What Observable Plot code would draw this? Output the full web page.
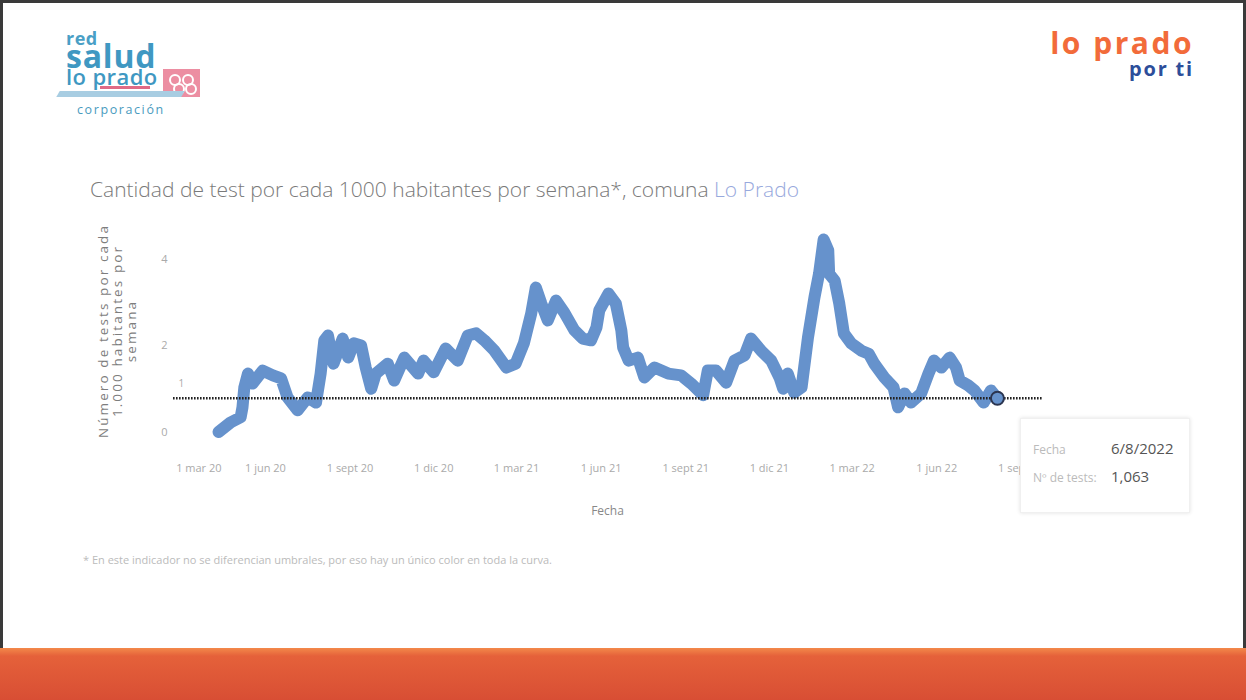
<!DOCTYPE html>
<html><head><meta charset="utf-8">
<script src="https://cdn.jsdelivr.net/npm/d3@7"></script>
<script src="https://cdn.jsdelivr.net/npm/@observablehq/plot@0.6"></script>
<style>
body{margin:0;background:#fff;}
#page{position:relative;width:1246px;height:700px;background:#fff;overflow:hidden;font-family:"Open Sans",sans-serif;}
#frame{position:absolute;left:0;top:0;width:1246px;height:648px;box-sizing:border-box;border:3px solid #3a3a3a;border-bottom:none;}
#band{position:absolute;left:0;top:648px;width:1246px;height:52px;background:linear-gradient(#f3894a 0px,#e5613a 8px,#d84e34 100%);}
.abs{position:absolute;white-space:nowrap;}
#title{left:90px;top:175px;font-size:21px;font-weight:300;color:#7a7a7a;}
#title span{color:#98a9dd;}
#ytitle{left:-3px;top:310px;width:240px;text-align:center;font-size:13.5px;line-height:14px;color:#7d7d7d;letter-spacing:2.1px;transform:rotate(-90deg);}
#fecha{left:580px;top:502px;width:55px;text-align:center;font-size:12px;color:#888;}
#foot{left:83px;top:552px;font-size:11px;color:#bbb;}
#tip{left:1020px;top:418px;width:170px;height:95px;background:#fff;box-shadow:0 0 4px rgba(0,0,0,0.12);border:1px solid #f0f0f0;box-sizing:border-box;}
.tl{position:absolute;left:12px;font-size:12px;color:#bbb;}
.tv{position:absolute;left:90px;font-size:15px;color:#555;}
#chart{position:absolute;left:0;top:200px;}
#logoL{left:66px;top:31px;font-weight:700;color:#3f98c2;line-height:0;}
#logoR{left:1046px;top:31px;font-weight:700;text-align:right;width:148px;}
.ring{position:absolute;width:8px;height:8px;border:2.5px solid #fff;border-radius:50%;}
</style></head><body><div id="page">
<div id="frame"></div>
<div id="band"></div>
<!-- left logo -->
<div class="abs" style="left:163px;top:69px;width:37px;height:28px;background:#ec8ea2;">
  <div class="ring" style="left:6px;top:5px;"></div><div class="ring" style="left:19px;top:5px;"></div>
  <div class="ring" style="left:10px;top:14px;"></div><div class="ring" style="left:22px;top:14px;"></div>
</div>
<div class="abs" style="left:100px;top:86px;width:50px;height:3px;background:#e06a86;"></div>
<div class="abs" style="left:58px;top:91px;width:125px;height:6px;background:#a8cde2;transform:skewX(-30deg);"></div>
<div class="abs" id="logoL"><span style="display:inline-block;font-size:18px;line-height:14px;color:#4a9fc6;letter-spacing:0.5px;">red</span><br><span style="display:inline-block;font-size:32px;line-height:18px;margin-top:2px;letter-spacing:0.8px;">salud</span><br><span style="display:inline-block;font-size:22px;font-weight:600;line-height:16px;margin-top:3px;letter-spacing:0.4px;">lo prado</span></div>
<div class="abs" style="left:77px;top:101px;font-size:12.5px;color:#4a9bc0;letter-spacing:1.6px;">corporación</div>
<!-- right logo -->
<div class="abs" id="logoR"><span style="display:inline-block;font-size:30px;color:#f26b3a;line-height:24px;letter-spacing:2.5px;">lo prado</span><br><span style="display:inline-block;font-size:20px;color:#2d4e9a;line-height:16px;letter-spacing:1.8px;">por ti</span></div>

<div class="abs" id="title">Cantidad de test por cada 1000 habitantes por semana*, comuna <span>Lo Prado</span></div>
<div class="abs" id="ytitle">Número de tests por cada<br>1.000 habitantes por<br>semana</div>
<div id="chart"></div>
<div class="abs" id="fecha">Fecha</div>
<div class="abs" id="foot">* En este indicador no se diferencian umbrales, por eso hay un único color en toda la curva.</div>
<div class="abs" id="tip">
  <div class="tl" style="top:22px;">Fecha</div><div class="tv" id="tipDate" style="top:19px;"></div>
  <div class="tl" style="top:50px;">Nº de tests:</div><div class="tv" id="tipVal" style="top:47px;"></div>
</div>
</div>
<script>
const dates = ["2020-04-11","2020-04-24","2020-05-05","2020-05-07","2020-05-09","2020-05-13","2020-05-18","2020-05-29","2020-06-09","2020-06-18","2020-06-25","2020-07-06","2020-07-17","2020-07-26","2020-07-31","2020-08-04","2020-08-08","2020-08-14","2020-08-24","2020-08-30","2020-09-05","2020-09-13","2020-09-18","2020-09-24","2020-09-29","2020-10-12","2020-10-19","2020-10-30","2020-11-14","2020-11-20","2020-12-01","2020-12-14","2020-12-27","2021-01-07","2021-01-16","2021-01-25","2021-02-05","2021-02-18","2021-02-28","2021-03-09","2021-03-17","2021-03-22","2021-03-28","2021-04-04","2021-04-13","2021-04-22","2021-05-03","2021-05-12","2021-05-21","2021-05-27","2021-05-30","2021-06-09","2021-06-17","2021-06-23","2021-06-25","2021-07-01","2021-07-11","2021-07-18","2021-07-29","2021-08-13","2021-08-27","2021-09-07","2021-09-20","2021-09-25","2021-10-04","2021-10-15","2021-10-24","2021-11-04","2021-11-11","2021-11-22","2021-12-03","2021-12-12","2021-12-16","2021-12-21","2021-12-28","2022-01-05","2022-01-12","2022-01-19","2022-01-24","2022-01-29","2022-02-03","2022-02-04","2022-02-10","2022-02-15","2022-02-20","2022-02-28","2022-03-11","2022-03-19","2022-03-25","2022-04-05","2022-04-15","2022-04-20","2022-04-27","2022-05-04","2022-05-15","2022-05-23","2022-05-29","2022-06-06","2022-06-15","2022-06-22","2022-06-26","2022-07-05","2022-07-12","2022-07-22","2022-07-30","2022-08-06"];
const values = [0.00,0.22,0.34,0.57,1.03,1.35,1.12,1.42,1.31,1.24,0.80,0.50,0.80,0.68,1.35,2.12,2.23,1.58,2.16,1.72,2.05,2.00,1.49,1.00,1.35,1.58,1.19,1.72,1.35,1.65,1.38,1.93,1.65,2.23,2.28,2.12,1.88,1.49,1.58,2.05,2.74,3.34,2.97,2.58,3.04,2.76,2.35,2.16,2.12,2.42,2.81,3.20,2.97,2.35,1.95,1.65,1.72,1.26,1.49,1.35,1.31,1.12,0.85,1.42,1.42,1.14,1.65,1.77,2.16,1.88,1.65,1.26,1.00,1.35,0.91,1.03,2.19,3.11,3.66,4.45,4.20,3.66,3.50,2.97,2.28,2.05,1.88,1.81,1.58,1.26,1.03,0.57,0.89,0.68,0.89,1.35,1.65,1.49,1.72,1.49,1.19,1.08,0.96,0.68,0.96,0.78];
const xTickDates = ["2020-03-01","2020-06-01","2020-09-01","2020-12-01","2021-03-01","2021-06-01","2021-09-01","2021-12-01","2022-03-01","2022-06-01","2022-09-01"];
const xTickLabels = ["1 mar 20","1 jun 20","1 sept 20","1 dic 20","1 mar 21","1 jun 21","1 sept 21","1 dic 21","1 mar 22","1 jun 22","1 sept 22"];
const yTicks = [0, 2, 4];
const refValue = 0.78;
const refLabel = "1";
const xDomain = ["2020-02-22","2022-09-24"];
const yDomain = [-0.428, 4.659];
const tipDate = "6/8/2022";
const tipValue = "1,063";
const lineColor = "#6692cc";

const data = dates.map((d, i) => ({date: new Date(d), value: values[i]}));
const last = data[data.length - 1];
const fmt = d3.utcFormat("%Y-%m-%d");
const labelOf = d => xTickLabels[xTickDates.indexOf(fmt(d))];
const tickObjs = xTickDates.map(d => new Date(d));

const chart = Plot.plot({
  width: 1246, height: 290,
  marginLeft: 173, marginRight: 204, marginTop: 30, marginBottom: 40,
  style: {fontFamily: "Open Sans, sans-serif", fontSize: "11px", color: "#aaa", background: "transparent"},
  x: {type: "utc", domain: xDomain.map(d => new Date(d))},
  y: {domain: yDomain},
  marks: [
    Plot.line(data, {x: "date", y: "value", stroke: lineColor, strokeWidth: 12, strokeLinejoin: "round", strokeLinecap: "round"}),
    Plot.ruleY([refValue], {stroke: "#222", strokeWidth: 2.4, strokeDasharray: "1.6,1.4"}),
    Plot.dot([last], {x: "date", y: "value", r: 6.5, fill: lineColor, stroke: "#2b3550", strokeWidth: 2}),
    Plot.axisY(yTicks, {tickSize: 0, tickPadding: 6, label: null, fill: "#aaa", fontSize: 11}),
    Plot.axisX(tickObjs.slice(0, 1), {tickSize: 0, tickPadding: 14, label: null, tickFormat: labelOf, dx: 18, fill: "#aaa", fontSize: 11}),
    Plot.axisX(tickObjs.slice(1), {tickSize: 0, tickPadding: 14, label: null, tickFormat: labelOf, fill: "#aaa", fontSize: 11}),
    Plot.text([refValue], {y: d => d, frameAnchor: "left", text: () => refLabel, dx: 5, dy: -14, fill: "#aaa", fontSize: 10})
  ]
});
document.getElementById("chart").appendChild(chart);
document.getElementById("tipDate").textContent = tipDate;
document.getElementById("tipVal").textContent = tipValue;
</script>
</body></html>
